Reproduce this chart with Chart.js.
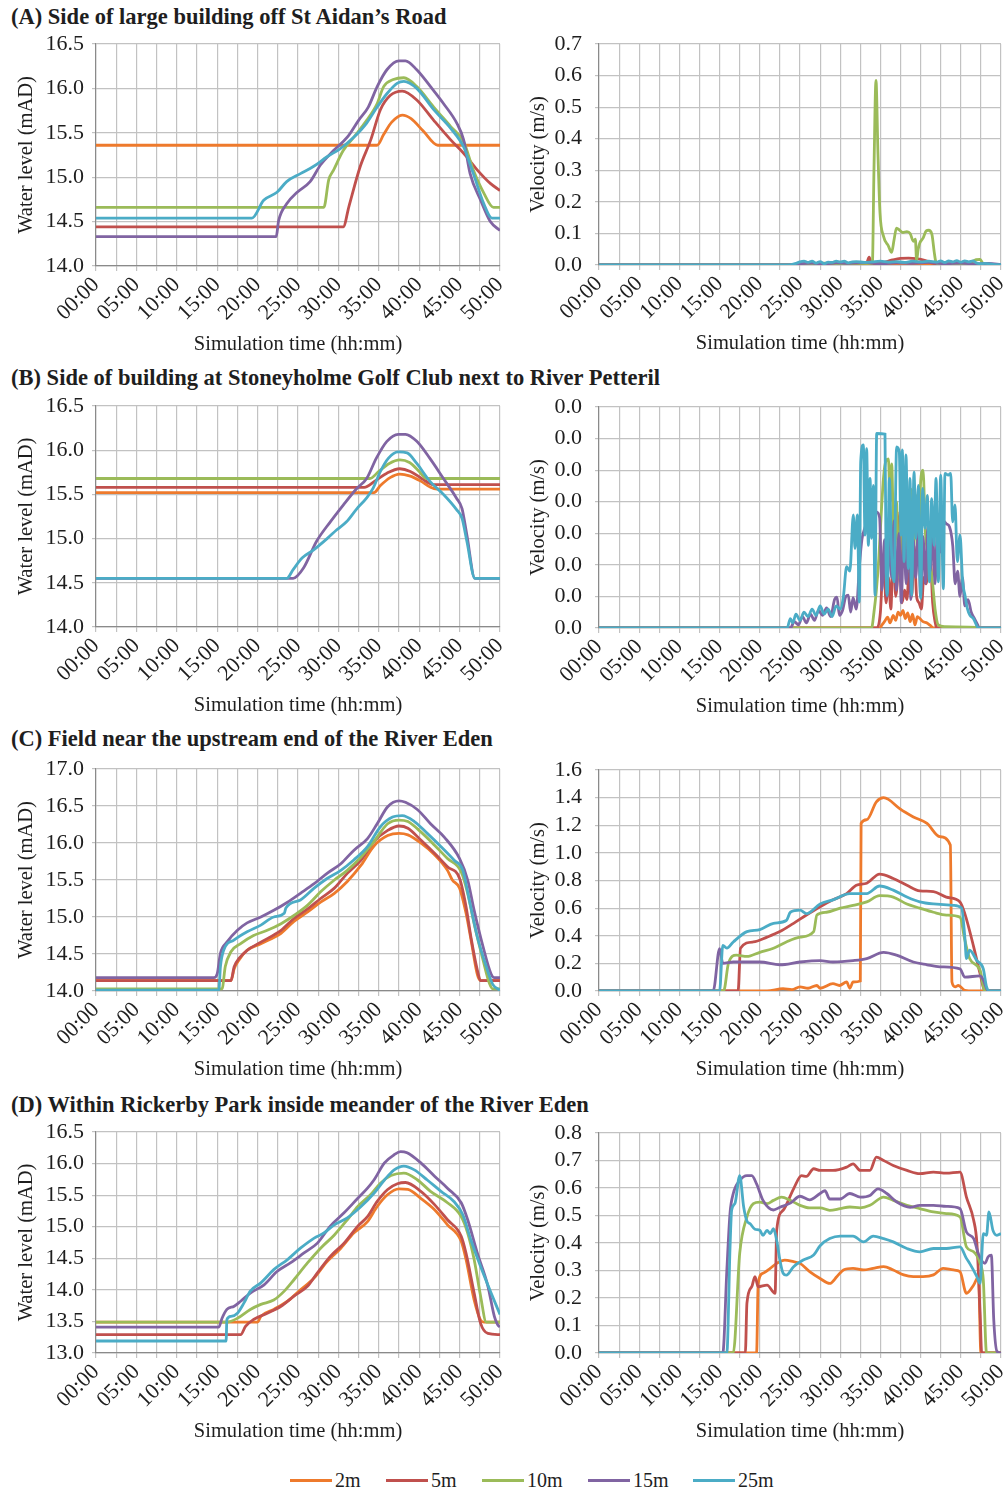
<!DOCTYPE html>
<html><head><meta charset="utf-8">
<script src="https://cdn.jsdelivr.net/npm/chart.js@4"></script>
<style>
body{margin:0;background:#fff;width:1007px;height:1493px;position:relative;overflow:hidden;font-family:'Liberation Serif','Times New Roman',serif;color:#1e1e1e}
canvas{position:absolute}
.sec{position:absolute;left:11px;font-weight:bold;font-size:22.5px;white-space:nowrap;line-height:24px}
.li{position:absolute;top:1468px;height:24px;font-size:20px;line-height:24px;white-space:nowrap}
.li .ln{position:absolute;left:0;top:11px;width:42px;height:3px}
.li .tx{position:absolute;left:45px;top:0}
</style></head><body>
<script>
// ---------- categories / labels ----------
const SERIES = ['2m','5m','10m','15m','25m'];
const COLORS = ['#EE7A2C','#C0504D','#9BBB59','#8064A2','#4BACC6'];
const SECTION_TITLES = [
  '(A) Side of large building off St Aidan\u2019s Road',
  '(B) Side of building at Stoneyholme Golf Club next to River Petteril',
  '(C) Field near the upstream end of the River Eden',
  '(D) Within Rickerby Park inside meander of the River Eden'
];
const X_TICK_LABELS = ['00:00','05:00','10:00','15:00','20:00','25:00','30:00','35:00','40:00','45:00','50:00'];
const LEVEL_TITLE = 'Water level (mAD)';
const VEL_TITLE = 'Velocity (m/s)';
const X_TITLE = 'Simulation time (hh:mm)';

// ---------- y tick values ----------
const A_LEVEL_TICKS = [14.0,14.5,15.0,15.5,16.0,16.5];
const A_VEL_TICKS = [0.0,0.1,0.2,0.3,0.4,0.5,0.6,0.7];
const B_LEVEL_TICKS = [14.0,14.5,15.0,15.5,16.0,16.5];
const B_VEL_TICKS = [0.000,0.005,0.010,0.015,0.020,0.025,0.030,0.035];
const C_LEVEL_TICKS = [14.0,14.5,15.0,15.5,16.0,16.5,17.0];
const C_VEL_TICKS = [0.0,0.2,0.4,0.6,0.8,1.0,1.2,1.4,1.6];
const D_LEVEL_TICKS = [13.0,13.5,14.0,14.5,15.0,15.5,16.0,16.5];
const D_VEL_TICKS = [0.0,0.1,0.2,0.3,0.4,0.5,0.6,0.7,0.8];

// ---------- (A) water level [hours, mAD] ----------
const A_LEVEL_2M = [[0,15.36],[34.8,15.36],[35.6,15.48],[36.6,15.62],[37.9,15.70],[39.0,15.66],[40.5,15.52],[42.3,15.36],[50,15.36]];
const A_LEVEL_5M = [[0,14.44],[30.6,14.44],[31.3,14.67],[32.7,15.12],[34.0,15.42],[35.2,15.76],[36.4,15.92],[37.9,15.97],[39.7,15.87],[41.8,15.64],[43.9,15.42],[45.5,15.27],[47.2,15.08],[48.8,14.93],[50,14.85]];
const A_LEVEL_10M = [[0,14.66],[28.2,14.66],[28.8,14.97],[29.4,15.08],[30.6,15.30],[31.9,15.45],[33.5,15.64],[34.8,15.83],[35.6,16.02],[36.8,16.10],[38.1,16.12],[39.7,16.02],[41.8,15.79],[43.9,15.57],[45.5,15.40],[46.7,15.08],[48.0,14.82],[49.2,14.66],[50,14.66]];
const A_LEVEL_15M = [[0,14.33],[22.3,14.33],[22.6,14.51],[23.6,14.70],[24.9,14.83],[26.5,14.95],[27.8,15.14],[29.4,15.30],[31.1,15.45],[32.5,15.64],[33.7,15.79],[34.8,16.02],[36.0,16.21],[37.5,16.31],[38.3,16.31],[39.7,16.21],[41.4,16.02],[43.0,15.83],[44.7,15.60],[45.5,15.42],[46.3,15.04],[47.6,14.74],[48.8,14.50],[50,14.40]];
const A_LEVEL_25M = [[0,14.54],[19.3,14.54],[20.75,14.74],[22.4,14.83],[23.6,14.95],[25.3,15.04],[26.9,15.12],[28.6,15.23],[30.2,15.32],[31.9,15.45],[33.5,15.61],[34.8,15.79],[36.0,15.94],[37.3,16.06],[38.1,16.08],[39.7,16.00],[41.8,15.76],[43.9,15.55],[45.5,15.34],[46.7,15.04],[48.0,14.70],[49.0,14.54],[50,14.54]];

// ---------- (A) velocity [hours, m/s] ----------
const A_VEL_2M = [[0,0],[25,0],[27,0.003],[30,0.002],[33,0.004],[36,0.003],[40,0.004],[44,0.002],[47,0.003],[50,0]];
const A_VEL_5M = [[0,0],[24,0],[26,0.004],[28,0.002],[30,0.005],[32,0.004],[33.3,0.008],[33.6,0.025],[33.9,0.005],[35,0.006],[36.5,0.016],[37.5,0.021],[38.5,0.022],[39.5,0.02],[40.5,0.015],[41.5,0.006],[43,0.003],[45,0.004],[47,0.002],[50,0]];
const A_VEL_10M = [[0,0],[24,0],[26,0.003],[28,0.006],[30,0.004],[32,0.005],[34.0,0.005],[34.2,0.3],[34.45,0.585],[34.7,0.35],[34.95,0.165],[35.4,0.09],[36.0,0.06],[36.4,0.04],[36.7,0.08],[37.0,0.117],[37.4,0.11],[37.8,0.103],[38.3,0.106],[38.7,0.10],[39.1,0.075],[39.35,0.082],[39.5,0.015],[39.7,0.05],[39.9,0.07],[40.3,0.085],[40.7,0.108],[41.0,0.11],[41.4,0.098],[41.7,0.04],[41.9,0.01],[42.2,0.004],[44,0.003],[46,0.005],[46.9,0.017],[47.4,0.018],[47.8,0.004],[50,0]];
const A_VEL_15M = [[0,0],[24,0],[25,0.004],[26.5,0.006],[28,0.003],[29.5,0.007],[31,0.005],[33,0.008],[35,0.004],[37,0.007],[39,0.005],[41,0.008],[43,0.004],[45,0.006],[47,0.003],[48.5,0.005],[50,0.001]];
const A_VEL_25M = [[0,0],[23.5,0],[24.5,0.005],[25,0.01],[25.5,0.012],[26,0.008],[26.5,0.012],[27,0.006],[27.5,0.011],[28,0.004],[28.5,0.009],[29,0.008],[29.5,0.012],[30,0.01],[30.5,0.012],[31,0.007],[31.5,0.01],[32,0.011],[33,0.008],[34,0.01],[35,0.012],[36,0.009],[37,0.011],[38,0.008],[39,0.012],[40,0.01],[41,0.012],[42,0.009],[42.5,0.013],[43,0.008],[43.5,0.013],[44,0.01],[44.5,0.014],[45,0.009],[45.5,0.013],[46,0.01],[46.5,0.013],[47,0.006],[47.5,0.004],[48,0.005],[49,0.002],[50,0.001]];

// ---------- (B) water level ----------
const B_LEVEL_2M = [[0,15.52],[34.4,15.52],[35.2,15.60],[36.4,15.69],[37.6,15.73],[38.8,15.71],[40.2,15.65],[41.4,15.58],[42.2,15.56],[50,15.56]];
const B_LEVEL_5M = [[0,15.58],[33.2,15.58],[34.5,15.65],[36.0,15.74],[37.6,15.79],[38.9,15.76],[40.3,15.68],[41.8,15.61],[50,15.61]];
const B_LEVEL_10M = [[0,15.68],[33.9,15.68],[35.0,15.76],[36.3,15.85],[37.6,15.89],[38.8,15.86],[40.0,15.76],[40.9,15.68],[50,15.68]];
const B_LEVEL_15M = [[0,14.55],[24.4,14.55],[25.7,14.67],[27.3,14.97],[29.0,15.19],[30.6,15.38],[32.3,15.57],[33.5,15.68],[34.7,15.91],[36.0,16.10],[37.4,16.18],[38.3,16.18],[39.7,16.10],[41.3,15.91],[43.0,15.68],[44.6,15.46],[45.3,15.34],[45.9,15.04],[46.9,14.55],[50,14.55]];
const B_LEVEL_25M = [[0,14.55],[23.6,14.55],[24.4,14.65],[25.5,14.78],[26.9,14.87],[28.6,15.00],[29.8,15.10],[31.0,15.19],[32.3,15.34],[33.5,15.46],[34.3,15.57],[35.2,15.76],[36.2,15.91],[37.4,15.98],[38.5,15.97],[39.7,15.85],[41.3,15.65],[43.0,15.50],[44.6,15.33],[45.3,15.23],[45.9,14.97],[46.9,14.55],[50,14.55]];

// ---------- (B) velocity ----------
const B_VEL_2M = [[0,0],[34.9,0],[35.2,0.0005],[35.5,0.0010],[35.9,0.0017],[36.2,0.0008],[36.6,0.0020],[36.9,0.0012],[37.2,0.0025],[37.5,0.0020],[37.8,0.0028],[38.1,0.0015],[38.4,0.0024],[38.7,0.0010],[39.0,0.0022],[39.3,0.0005],[39.6,0.0018],[39.9,0.0015],[40.3,0.0010],[40.8,0.0008],[41.2,0.0004],[41.6,0],[50,0]];
const B_VEL_5M = [[0,0],[34.6,0],[35.0,0.0025],[35.4,0.0115],[35.7,0.0040],[36.0,0.0080],[36.3,0.0030],[36.6,0.0130],[36.9,0.0050],[37.2,0.0100],[37.4,0.0184],[37.7,0.0040],[38.0,0.0060],[38.3,0.0045],[38.6,0.0100],[38.9,0.0050],[39.2,0.0130],[39.5,0.0050],[39.8,0.0040],[40.1,0.0030],[40.4,0.0080],[40.7,0.0070],[41.0,0.0110],[41.2,0.0115],[41.5,0.0040],[41.8,0.0010],[42.0,0],[50,0]];
const B_VEL_10M = [[0,0],[33.9,0],[34.2,0.0025],[34.5,0.0060],[34.8,0.0110],[35.1,0.0180],[35.4,0.0240],[35.7,0.0265],[36.0,0.0268],[36.2,0.0200],[36.4,0.0260],[36.7,0.0120],[37.0,0.0200],[37.3,0.0080],[37.6,0.0180],[37.9,0.0100],[38.2,0.0200],[38.5,0.0090],[38.8,0.0220],[39.1,0.0120],[39.4,0.0210],[39.7,0.0100],[40.0,0.0230],[40.3,0.0250],[40.6,0.0150],[40.9,0.0120],[41.2,0.0100],[41.5,0.0070],[41.8,0.0030],[42.2,0.0005],[43,0.0002],[47,0.0001],[47.3,0],[50,0]];
const B_VEL_15M = [[0,0],[23.8,0],[24.3,0.0010],[24.8,0.0005],[25.3,0.0018],[25.8,0.0008],[26.3,0.0022],[26.8,0.0012],[27.3,0.0028],[27.8,0.0020],[28.3,0.0032],[28.8,0.0018],[29.3,0.0045],[29.6,0.0049],[29.9,0.0020],[30.3,0.0028],[30.7,0.0050],[31.0,0.0052],[31.3,0.0025],[31.6,0.0048],[32.0,0.0030],[32.4,0.0100],[32.7,0.0140],[33.1,0.0160],[33.5,0.0175],[34.0,0.0180],[34.5,0.0184],[34.9,0.0175],[35.2,0.0060],[35.5,0.0140],[35.8,0.0050],[36.1,0.0150],[36.4,0.0080],[36.7,0.0170],[37.0,0.0060],[37.3,0.0150],[37.6,0.0040],[37.9,0.0160],[38.2,0.0070],[38.5,0.0150],[38.8,0.0045],[39.1,0.0140],[39.4,0.0080],[39.7,0.0150],[40.0,0.0050],[40.3,0.0145],[40.6,0.0070],[40.9,0.0160],[41.2,0.0090],[41.5,0.0150],[41.8,0.0070],[42.1,0.0160],[42.4,0.0120],[42.8,0.0170],[43.2,0.0165],[43.6,0.0160],[44.0,0.0130],[44.3,0.0070],[44.6,0.0090],[44.9,0.0050],[45.2,0.0080],[45.5,0.0035],[45.9,0.0045],[46.3,0.0025],[46.7,0.0015],[47.1,0.0005],[47.3,0],[50,0]];
const B_VEL_25M = [[0,0],[23.4,0],[23.8,0.0015],[24.1,0.0008],[24.5,0.0022],[25.0,0.0012],[25.5,0.0025],[26.0,0.0018],[26.5,0.0030],[27.0,0.0020],[27.5,0.0035],[28.0,0.0022],[28.5,0.0030],[29.0,0.0018],[29.5,0.0035],[30.0,0.0030],[30.4,0.0050],[30.8,0.0097],[31.2,0.0090],[31.63,0.0179],[31.84,0.0126],[32.13,0.0179],[32.38,0.0041],[32.55,0.0263],[32.88,0.0290],[33.08,0.0147],[33.29,0.0284],[33.5,0.0131],[33.71,0.0237],[33.91,0.0142],[34.12,0.0226],[34.33,0.0052],[34.54,0.0308],[35.57,0.0307],[35.7,0.0105],[35.86,0.0052],[36.11,0.0237],[36.4,0.0115],[36.69,0.0073],[37.02,0.0287],[37.35,0.0279],[37.56,0.0147],[37.73,0.0282],[37.94,0.0105],[38.18,0.0274],[38.47,0.0094],[38.68,0.0237],[38.89,0.0052],[39.18,0.0247],[39.43,0.0142],[39.72,0.0226],[40.01,0.0047],[40.26,0.0221],[40.55,0.0158],[40.84,0.0210],[41.09,0.0073],[41.38,0.0205],[41.67,0.0131],[41.92,0.0237],[42.21,0.0073],[42.5,0.0242],[42.83,0.0062],[43.03,0.0245],[43.45,0.0242],[43.74,0.0245],[43.99,0.0168],[44.28,0.0195],[44.57,0.0105],[44.9,0.0147],[45.23,0.0073],[45.52,0.0052],[45.81,0.0031],[46.14,0.0020],[46.56,0.0015],[46.97,0.0004],[47.18,0],[50,0]];

// ---------- (C) water level ----------
const C_LEVEL_2M = [[0,14.14],[16.7,14.14],[17.1,14.30],[17.7,14.42],[18.7,14.55],[20.4,14.64],[22.9,14.78],[24.5,14.94],[26.2,15.07],[27.8,15.20],[29.5,15.32],[31.1,15.48],[32.8,15.70],[34.4,15.96],[36.1,16.10],[37.5,16.13],[38.6,16.11],[40.2,16.00],[41.9,15.84],[43.5,15.63],[44.1,15.50],[45.0,15.39],[45.8,15.05],[46.4,14.70],[47.2,14.22],[47.6,14.14],[50,14.14]];
const C_LEVEL_5M = [[0,14.14],[16.7,14.14],[17.1,14.33],[17.7,14.44],[18.7,14.55],[20.4,14.66],[22.9,14.82],[24.5,14.98],[26.2,15.11],[27.8,15.25],[29.5,15.39],[31.1,15.59],[32.8,15.77],[34.4,16.02],[36.1,16.17],[37.5,16.23],[38.6,16.20],[40.2,16.04],[41.9,15.86],[43.5,15.68],[45.0,15.52],[45.8,15.14],[46.4,14.73],[47.2,14.28],[47.6,14.14],[50,14.14]];
const C_LEVEL_10M = [[0,14.03],[15.6,14.03],[16.0,14.33],[16.7,14.53],[17.9,14.64],[19.5,14.75],[21.2,14.82],[22.9,14.91],[24.5,15.02],[26.2,15.16],[27.8,15.34],[29.5,15.50],[31.1,15.63],[32.8,15.81],[34.4,16.02],[36.1,16.26],[37.5,16.31],[38.6,16.29],[40.2,16.15],[41.9,15.97],[43.5,15.79],[45.2,15.61],[46.0,15.32],[46.8,14.91],[47.9,14.42],[48.7,14.10],[49.1,14.03],[50,14.03]];
const C_LEVEL_15M = [[0,14.18],[14.6,14.18],[15.0,14.23],[15.4,14.51],[16.2,14.66],[17.5,14.82],[18.7,14.92],[20.4,15.00],[22.0,15.09],[23.7,15.20],[25.3,15.32],[27.0,15.45],[28.6,15.59],[30.3,15.72],[31.9,15.90],[33.6,16.06],[34.8,16.26],[36.1,16.49],[37.5,16.57],[38.3,16.55],[39.8,16.45],[41.4,16.26],[43.1,16.08],[45.0,15.79],[46.0,15.50],[46.8,15.09],[47.9,14.60],[48.9,14.23],[49.3,14.18],[50,14.18]];
const C_LEVEL_25M = [[0,14.01],[15.2,14.01],[15.4,14.33],[15.8,14.55],[17.1,14.69],[18.7,14.80],[20.4,14.89],[22.0,15.00],[23.3,15.05],[23.5,15.12],[25.3,15.23],[27.0,15.39],[28.6,15.52],[30.3,15.63],[31.9,15.77],[33.6,15.95],[35.2,16.22],[36.7,16.35],[37.9,16.37],[39.4,16.29],[41.0,16.13],[42.7,15.95],[44.3,15.77],[45.4,15.63],[46.2,15.23],[47.2,14.73],[48.3,14.33],[49.1,14.09],[50,14.01]];

// ---------- (C) velocity ----------
const C_VEL_2M = [[0,0],[17.5,0],[20.9,0],[22.9,0.017],[24,0.01],[25.0,0.03],[26,0.02],[27.1,0.04],[27.5,0.02],[29.1,0.053],[29.9,0.04],[30.8,0.065],[31.2,0.02],[31.6,0.065],[32.5,0.072],[32.6,1.213],[33.3,1.24],[34.5,1.37],[35.4,1.40],[36.0,1.387],[37.4,1.32],[39.1,1.26],[40.8,1.213],[42.4,1.117],[43.7,1.056],[43.9,0.065],[44.3,0.03],[44.7,0.04],[45.5,0.005],[46.6,0],[50,0]];
const C_VEL_5M = [[0,0],[17.3,0],[17.6,0.31],[19.2,0.355],[20.9,0.39],[22.5,0.43],[24.2,0.49],[25.8,0.55],[27.5,0.61],[29.1,0.66],[30.8,0.705],[32.0,0.765],[33.3,0.78],[34.9,0.846],[36.6,0.815],[38.3,0.765],[39.9,0.725],[41.6,0.72],[43.2,0.68],[44.9,0.645],[45.5,0.56],[46.6,0.32],[47.4,0.126],[48.0,0],[50,0]];
const C_VEL_10M = [[0,0],[15.5,0],[16.1,0.2],[17.1,0.26],[18.4,0.25],[20.0,0.28],[21.7,0.31],[23.3,0.355],[25.0,0.39],[26.7,0.43],[27.1,0.55],[28.3,0.57],[30.0,0.60],[31.6,0.62],[33.3,0.645],[34.9,0.69],[36.6,0.68],[38.3,0.63],[39.9,0.60],[41.6,0.57],[43.2,0.55],[44.9,0.535],[45.5,0.37],[46.1,0.235],[47.4,0.15],[48.0,0],[50,0]];
const C_VEL_15M = [[0,0],[14.2,0],[15.0,0.307],[15.4,0.2],[16.7,0.21],[20.0,0.21],[22.5,0.19],[25.0,0.21],[27.5,0.22],[29.1,0.21],[31.6,0.22],[33.3,0.235],[35.4,0.28],[37.0,0.26],[39.1,0.21],[40.8,0.19],[42.4,0.175],[44.9,0.16],[45.5,0.10],[47.4,0.11],[47.8,0.08],[48.4,0],[50,0]];
const C_VEL_25M = [[0,0],[15.0,0],[15.4,0.33],[15.9,0.31],[16.7,0.355],[18.4,0.43],[20.0,0.445],[21.7,0.49],[23.3,0.51],[23.8,0.57],[25.0,0.585],[25.8,0.56],[27.5,0.63],[29.1,0.66],[31.2,0.705],[33.3,0.705],[34.9,0.76],[36.6,0.73],[38.3,0.68],[39.9,0.645],[41.6,0.63],[44.1,0.62],[45.1,0.60],[45.5,0.39],[45.7,0.235],[46.1,0.295],[47.0,0.22],[47.8,0.16],[48.2,0.03],[48.6,0],[50,0]];

// ---------- (D) water level ----------
const D_LEVEL_2M = [[0,13.49],[20.0,13.49],[20.4,13.58],[22.0,13.69],[23.7,13.82],[25.3,14.00],[27.0,14.19],[28.6,14.45],[30.3,14.66],[31.9,14.90],[33.6,15.08],[34.8,15.32],[36.1,15.51],[37.5,15.60],[38.6,15.59],[40.2,15.45],[41.9,15.27],[43.5,15.03],[45.2,14.77],[45.8,14.48],[46.8,13.84],[47.6,13.52],[48.0,13.49],[50,13.49]];
const D_LEVEL_5M = [[0,13.29],[17.9,13.29],[18.5,13.42],[19.5,13.53],[21.2,13.63],[22.9,13.74],[24.5,13.90],[26.2,14.06],[27.4,14.27],[29.0,14.53],[30.7,14.74],[32.4,15.01],[33.6,15.16],[34.8,15.40],[36.1,15.59],[37.3,15.68],[38.3,15.70],[40.2,15.56],[41.9,15.35],[43.5,15.11],[45.2,14.85],[45.8,14.58],[46.8,13.95],[47.6,13.47],[48.5,13.31],[50,13.29]];
const D_LEVEL_10M = [[0,13.49],[16.2,13.49],[17.5,13.55],[19.1,13.69],[20.4,13.77],[22.0,13.84],[23.3,13.98],[24.5,14.16],[26.2,14.43],[27.8,14.66],[29.5,14.87],[31.1,15.11],[32.4,15.32],[34.0,15.51],[35.2,15.69],[36.5,15.81],[38.1,15.85],[39.8,15.74],[41.4,15.56],[43.5,15.38],[45.2,15.16],[46.0,14.90],[46.8,14.48],[47.6,13.90],[48.3,13.49],[50,13.49]];
const D_LEVEL_15M = [[0,13.41],[15.2,13.41],[15.6,13.55],[16.2,13.69],[17.1,13.74],[17.9,13.82],[19.1,13.95],[20.8,14.08],[22.4,14.29],[24.1,14.43],[25.7,14.58],[27.4,14.74],[29.0,15.01],[30.7,15.22],[32.4,15.45],[33.6,15.61],[34.4,15.74],[35.7,16.01],[36.9,16.14],[37.7,16.19],[38.5,16.17],[40.2,16.01],[41.9,15.80],[43.5,15.61],[45.2,15.38],[46.0,15.11],[47.2,14.58],[48.5,14.06],[49.3,13.58],[49.7,13.45],[50,13.41]];
const D_LEVEL_25M = [[0,13.19],[16.1,13.19],[16.2,13.53],[16.7,13.58],[17.5,13.63],[18.3,13.79],[19.1,13.98],[20.4,14.11],[22.0,14.32],[23.7,14.48],[25.3,14.66],[27.0,14.82],[28.2,14.90],[29.5,15.03],[31.1,15.14],[32.8,15.32],[34.4,15.53],[35.7,15.74],[36.9,15.90],[38.1,15.96],[39.4,15.90],[41.0,15.74],[42.7,15.56],[44.3,15.40],[45.4,15.19],[46.4,14.79],[47.6,14.37],[48.9,13.95],[50,13.61]];

// ---------- (D) velocity ----------
const D_VEL_2M = [[0,0],[19.6,0],[19.8,0.253],[20.4,0.29],[21.3,0.308],[22.1,0.326],[23.1,0.338],[24.2,0.332],[25.0,0.326],[26.2,0.296],[27.5,0.271],[28.7,0.253],[29.6,0.278],[30.4,0.302],[31.6,0.308],[32.9,0.302],[34.1,0.308],[35.4,0.314],[36.6,0.302],[37.9,0.284],[39.1,0.278],[40.3,0.278],[41.6,0.284],[42.8,0.308],[44.1,0.302],[44.9,0.296],[45.7,0.217],[46.6,0.247],[47.2,0.278],[47.5,0],[50,0]];
const D_VEL_5M = [[0,0],[18.2,0],[18.4,0.181],[19.0,0.241],[19.4,0.278],[19.8,0.241],[20.9,0.247],[21.9,0.217],[22.1,0.446],[22.9,0.519],[24.2,0.597],[25.2,0.645],[25.8,0.642],[26.7,0.67],[27.5,0.664],[29.1,0.664],[30.8,0.676],[31.6,0.688],[32.5,0.664],[33.7,0.664],[34.5,0.712],[35.4,0.70],[36.6,0.682],[38.3,0.664],[39.9,0.652],[41.6,0.658],[43.2,0.654],[44.9,0.658],[45.7,0.567],[46.6,0.483],[47.0,0.40],[47.4,0.145],[47.6,0],[50,0]];
const D_VEL_10M = [[0,0],[16.7,0],[17.5,0.362],[18.4,0.495],[19.2,0.543],[20.0,0.549],[20.9,0.543],[21.7,0.555],[22.7,0.567],[23.8,0.555],[25.0,0.537],[26.2,0.528],[27.5,0.528],[28.7,0.519],[30.0,0.525],[31.2,0.531],[32.5,0.528],[33.7,0.537],[35.4,0.567],[36.6,0.555],[38.3,0.537],[39.9,0.525],[41.6,0.513],[43.2,0.507],[44.9,0.495],[45.7,0.386],[46.6,0.368],[47.4,0.326],[47.8,0.265],[48.2,0],[50,0]];
const D_VEL_15M = [[0,0],[15.4,0],[15.9,0.30],[16.3,0.51],[16.7,0.58],[17.5,0.627],[18.4,0.645],[19.0,0.645],[19.6,0.615],[20.4,0.555],[21.7,0.52],[22.5,0.53],[23.8,0.545],[25.0,0.57],[26.2,0.557],[27.5,0.58],[28.1,0.59],[28.7,0.56],[30.0,0.56],[31.2,0.58],[32.5,0.567],[33.7,0.573],[34.7,0.597],[35.8,0.58],[37.0,0.55],[38.7,0.53],[39.9,0.537],[41.6,0.537],[43.2,0.533],[44.9,0.525],[45.7,0.44],[46.6,0.416],[47.2,0.36],[48.0,0.326],[48.4,0.35],[48.8,0.356],[49.1,0.12],[49.5,0.006],[50,0]];
const D_VEL_25M = [[0,0],[15.9,0],[16.3,0.386],[16.5,0.52],[16.9,0.543],[17.5,0.645],[18.0,0.53],[18.4,0.48],[18.8,0.47],[19.4,0.45],[20.0,0.446],[20.4,0.428],[20.9,0.446],[21.3,0.434],[21.7,0.452],[22.1,0.41],[22.5,0.338],[22.9,0.29],[23.3,0.283],[24.2,0.314],[25.4,0.338],[26.7,0.356],[27.5,0.39],[28.7,0.416],[30.0,0.425],[31.6,0.425],[32.9,0.404],[34.1,0.425],[35.4,0.416],[36.6,0.404],[38.3,0.38],[39.9,0.368],[41.6,0.38],[43.2,0.38],[44.9,0.386],[45.7,0.344],[46.1,0.326],[47.0,0.278],[47.4,0.253],[47.8,0.434],[48.2,0.428],[48.5,0.513],[49.0,0.446],[49.5,0.428],[50,0.434]];

// ---------- drawing ----------
const FONT = "'Liberation Serif','Times New Roman',serif";
const TXT = '#1e1e1e';
const GRID = '#c2c2c2';
const AXIS = '#8a8a8a';
const TICK_SIZE = 22;
const TITLE_SIZE = 20.5;

Chart.defaults.font.family = FONT;
Chart.defaults.color = TXT;
Chart.defaults.animation = false;

function addSection(text, top){
  const d = document.createElement('div');
  d.className = 'sec'; d.style.top = top + 'px'; d.textContent = text;
  document.body.appendChild(d);
}

function makeChart(box, series, yTicks, yTitle, decimals){
  const cv = document.createElement('canvas');
  cv.width = box.w; cv.height = box.h;
  cv.style.left = box.x + 'px'; cv.style.top = box.y + 'px';
  cv.style.width = box.w + 'px'; cv.style.height = box.h + 'px';
  document.body.appendChild(cv);
  const step = +(yTicks[1] - yTicks[0]).toFixed(6);
  new Chart(cv.getContext('2d'), {
    type: 'line',
    data: {
      datasets: series.map((d, i) => ({
        label: SERIES[i],
        data: d.map(p => ({x: p[0], y: p[1]})),
        borderColor: COLORS[i],
        backgroundColor: COLORS[i],
        borderWidth: 2.8,
        pointRadius: 0,
        fill: false,
        cubicInterpolationMode: 'monotone',
        order: SERIES.length - 1 - i
      }))
    },
    options: {
      responsive: false,
      maintainAspectRatio: false,
      animation: false,
      layout: {padding: {left: 0, right: box.pr, top: 10, bottom: 0}},
      plugins: {legend: {display: false}, tooltip: {enabled: false}},
      scales: {
        x: {
          type: 'linear', min: 0, max: 50,
          ticks: {
            stepSize: 2.5, autoSkip: false, maxRotation: 45, minRotation: 45,
            padding: 1, font: {size: TICK_SIZE}, color: TXT,
            callback: v => { const k = v / 5; return Math.abs(k - Math.round(k)) < 1e-6 ? X_TICK_LABELS[Math.round(k)] : ''; }
          },
          grid: {color: GRID, lineWidth: 1.2, tickLength: 5, drawTicks: true},
          border: {color: AXIS, width: 1.2},
          title: {display: true, text: X_TITLE, font: {size: TITLE_SIZE}, color: TXT, padding: {top: 0, bottom: 7}},
          afterFit: s => { s.height = 98; s.paddingLeft = 0; s.paddingRight = 0; }
        },
        y: {
          type: 'linear', min: yTicks[0], max: yTicks[yTicks.length - 1],
          ticks: {stepSize: step, autoSkip: false, padding: box.tp, font: {size: TICK_SIZE}, color: TXT,
                  callback: v => Number(v).toFixed(decimals)},
          grid: {color: GRID, lineWidth: 1.2, tickLength: 4},
          border: {color: AXIS, width: 1.2},
          title: {display: true, text: yTitle, font: {size: TITLE_SIZE}, color: TXT, padding: {top: box.titlePad, bottom: 0}},
          afterFit: s => { s.width = 96; s.paddingTop = 0; s.paddingBottom = 0; }
        }
      }
    }
  });
}

const ROWS = [
  {title: SECTION_TITLES[0], titleTop: 5,    lTop: 44,   lBot: 266,  rTop: 44,   rBot: 265,
   L: [A_LEVEL_2M, A_LEVEL_5M, A_LEVEL_10M, A_LEVEL_15M, A_LEVEL_25M], LT: A_LEVEL_TICKS,
   R: [A_VEL_2M, A_VEL_5M, A_VEL_10M, A_VEL_15M, A_VEL_25M], RT: A_VEL_TICKS},
  {title: SECTION_TITLES[1], titleTop: 366,  lTop: 406,  lBot: 627,  rTop: 407,  rBot: 628,
   L: [B_LEVEL_2M, B_LEVEL_5M, B_LEVEL_10M, B_LEVEL_15M, B_LEVEL_25M], LT: B_LEVEL_TICKS,
   R: [B_VEL_2M, B_VEL_5M, B_VEL_10M, B_VEL_15M, B_VEL_25M], RT: B_VEL_TICKS},
  {title: SECTION_TITLES[2], titleTop: 727,  lTop: 769,  lBot: 991,  rTop: 770,  rBot: 991,
   L: [C_LEVEL_2M, C_LEVEL_5M, C_LEVEL_10M, C_LEVEL_15M, C_LEVEL_25M], LT: C_LEVEL_TICKS,
   R: [C_VEL_2M, C_VEL_5M, C_VEL_10M, C_VEL_15M, C_VEL_25M], RT: C_VEL_TICKS},
  {title: SECTION_TITLES[3], titleTop: 1093, lTop: 1132, lBot: 1353, rTop: 1133, rBot: 1353,
   L: [D_LEVEL_2M, D_LEVEL_5M, D_LEVEL_10M, D_LEVEL_15M, D_LEVEL_25M], LT: D_LEVEL_TICKS,
   R: [D_VEL_2M, D_VEL_5M, D_VEL_10M, D_VEL_15M, D_VEL_25M], RT: D_VEL_TICKS}
];

ROWS.forEach(r => {
  addSection(r.title, r.titleTop);
  makeChart({x: 0, y: r.lTop - 10, w: 503, h: r.lBot - r.lTop + 108, pr: 3, tp: 8, titlePad: 14},
            r.L, r.LT, LEVEL_TITLE, 1);
  makeChart({x: 503, y: r.rTop - 10, w: 504, h: r.rBot - r.rTop + 108, pr: 6, tp: 13, titlePad: 23},
            r.R, r.RT, VEL_TITLE, 1);
});

// legend
const LEGEND_X = [290, 386, 482, 588, 693];
SERIES.forEach((s, i) => {
  const d = document.createElement('div');
  d.className = 'li'; d.style.left = LEGEND_X[i] + 'px';
  const ln = document.createElement('span'); ln.className = 'ln'; ln.style.background = COLORS[i];
  const tx = document.createElement('span'); tx.className = 'tx'; tx.textContent = s;
  d.appendChild(ln); d.appendChild(tx);
  document.body.appendChild(d);
});
</script>
</body></html>
